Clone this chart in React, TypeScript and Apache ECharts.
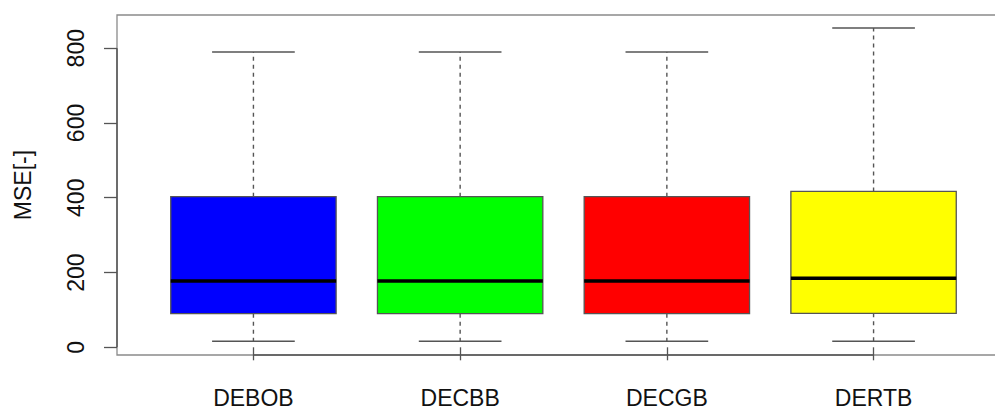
import React, { useEffect, useRef } from "react";
import * as echarts from "echarts";

const categories = ["DEBOB", "DECBB", "DECGB", "DERTB"];
const colors = ["#0000FF", "#00FF00", "#FF0000", "#FFFF00"];
// [lower whisker, Q1, median, Q3, upper whisker]
const lowWhisker = [16, 16, 16, 16];
const q1 = [90, 90, 90, 91];
const median = [177, 177, 177, 185];
const q3 = [403, 403, 403, 417];
const highWhisker = [790, 790, 790, 854];
const yTicks = [0, 200, 400, 600, 800];

export default function App() {
  const ref = useRef<HTMLDivElement>(null);
  useEffect(() => {
    document.body.style.margin = "0";
    const chart = echarts.init(ref.current!, null, { renderer: "svg" });
    const data = categories.map((c, i) => [i + 1, lowWhisker[i], q1[i], median[i], q3[i], highWhisker[i], i]);
    const font = "'Liberation Sans', Arial, sans-serif";
    chart.setOption({
      animation: false,
      grid: {
        left: 117,
        top: 15,
        width: 893,
        height: 340,
        show: true,
        borderColor: "#8a8a8a",
        borderWidth: 1.3,
        backgroundColor: "transparent",
        outerBoundsMode: "none",
        containLabel: false,
      },
      xAxis: {
        type: "value",
        min: 0.34,
        max: 4.66,
        axisLine: { show: false },
        splitLine: { show: false },
        axisTick: {
          show: true,
          customValues: [1, 2, 3, 4],
          length: 13,
          lineStyle: { color: "#555", width: 1.3 },
        },
        axisLabel: {
          show: true,
          customValues: [1, 2, 3, 4],
          formatter: (v: number) => categories[Math.round(v) - 1] ?? "",
          fontSize: 23,
          fontFamily: font,
          color: "#111",
          margin: 31,
        },
      },
      yAxis: {
        type: "value",
        min: -20.6,
        max: 888.8,
        name: "MSE[-]",
        nameLocation: "middle",
        nameRotate: 90,
        nameGap: 83,
        nameTextStyle: { fontSize: 23, fontFamily: font, color: "#111" },
        axisLine: { show: false },
        splitLine: { show: false },
        axisTick: {
          show: true,
          customValues: yTicks,
          length: 13,
          lineStyle: { color: "#555", width: 1.3 },
        },
        axisLabel: {
          show: true,
          customValues: yTicks,
          rotate: 90,
          fontSize: 23,
          fontFamily: font,
          color: "#111",
          margin: 30,
        },
      },
      series: [
        {
          type: "custom",
          clip: false,
          data: data,
          renderItem: (params: any, api: any) => {
            const x = api.value(0);
            const idx = api.value(6);
            const pLow = api.coord([x, api.value(1)]);
            const pQ1 = api.coord([x, api.value(2)]);
            const pMed = api.coord([x, api.value(3)]);
            const pQ3 = api.coord([x, api.value(4)]);
            const pHigh = api.coord([x, api.value(5)]);
            const left = api.coord([x - 0.4, 0])[0];
            const right = api.coord([x + 0.4, 0])[0];
            const capL = api.coord([x - 0.2, 0])[0];
            const capR = api.coord([x + 0.2, 0])[0];
            const cx = pMed[0];
            const grey = "#555";
            return {
              type: "group",
              children: [
                {
                  type: "line",
                  shape: { x1: cx, y1: pQ3[1], x2: cx, y2: pHigh[1] },
                  style: { stroke: grey, lineWidth: 1.4, lineDash: [4, 4] },
                },
                {
                  type: "line",
                  shape: { x1: cx, y1: pQ1[1], x2: cx, y2: pLow[1] },
                  style: { stroke: grey, lineWidth: 1.4, lineDash: [4, 4] },
                },
                {
                  type: "line",
                  shape: { x1: capL, y1: pHigh[1], x2: capR, y2: pHigh[1] },
                  style: { stroke: grey, lineWidth: 1.5 },
                },
                {
                  type: "line",
                  shape: { x1: capL, y1: pLow[1], x2: capR, y2: pLow[1] },
                  style: { stroke: grey, lineWidth: 1.5 },
                },
                {
                  type: "rect",
                  shape: { x: left, y: pQ3[1], width: right - left, height: pQ1[1] - pQ3[1] },
                  style: { fill: colors[idx], stroke: grey, lineWidth: 1.3 },
                },
                {
                  type: "line",
                  shape: { x1: left, y1: pMed[1], x2: right, y2: pMed[1] },
                  style: { stroke: "#000", lineWidth: 3.5 },
                },
              ],
            };
          },
        },
        {
          type: "custom",
          clip: false,
          data: [[1, 4, 0, 800]],
          renderItem: (params: any, api: any) => {
            const xMin = api.coord([api.value(0), 0]);
            const xMax = api.coord([api.value(1), 0]);
            const yMin = api.coord([0.34, api.value(2)]);
            const yMax = api.coord([0.34, api.value(3)]);
            const bottom = api.coord([0, -20.6])[1];
            const leftX = api.coord([0.34, 0])[0];
            return {
              type: "group",
              children: [
                {
                  type: "line",
                  shape: { x1: xMin[0], y1: bottom, x2: xMax[0], y2: bottom },
                  style: { stroke: "#555", lineWidth: 1.5 },
                },
                {
                  type: "line",
                  shape: { x1: leftX, y1: yMin[1], x2: leftX, y2: yMax[1] },
                  style: { stroke: "#555", lineWidth: 1.5 },
                },
              ],
            };
          },
        },
      ],
    });
    return () => chart.dispose();
  }, []);
  return <div ref={ref} style={{ width: 995, height: 410 }} />;
}
